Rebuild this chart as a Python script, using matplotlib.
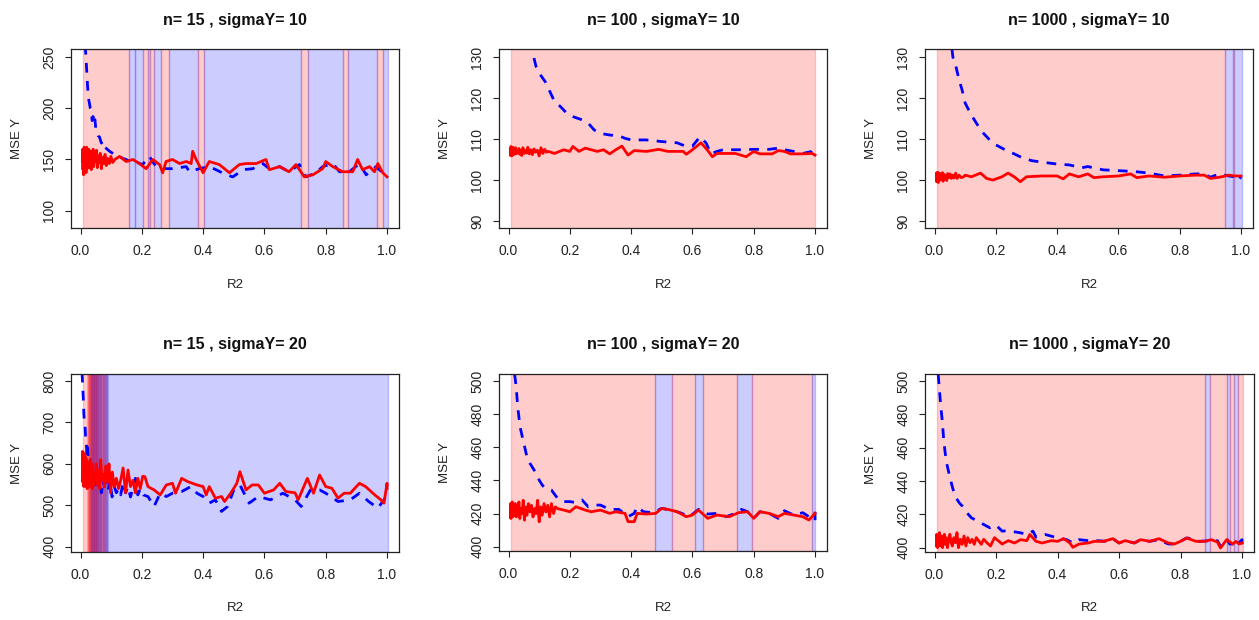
import matplotlib
matplotlib.use("Agg")
import matplotlib.pyplot as plt

plt.rcParams["font.family"] = ["Liberation Sans", "DejaVu Sans"]

W, H = 1259, 620

RED = (1, 0, 0, 0.2)
BLUE = (0, 0, 1, 0.2)

# ---------------- panel 1 : n=15, sigmaY=10 ----------------
p1_blue_x = [0.015, 0.018, 0.020, 0.023, 0.026, 0.029, 0.032, 0.035, 0.038, 0.041, 0.044, 0.047,
             0.050, 0.054, 0.058, 0.062, 0.068, 0.074, 0.080, 0.087, 0.095, 0.105, 0.116, 0.127,
             0.138, 0.149, 0.160, 0.171, 0.185, 0.203, 0.215, 0.225, 0.235, 0.247, 0.28, 0.30,
             0.345, 0.355, 0.388, 0.42, 0.442, 0.475, 0.497, 0.53, 0.562, 0.595, 0.616, 0.65,
             0.68, 0.714, 0.736, 0.768, 0.79, 0.823, 0.845, 0.877, 0.91, 0.932, 0.964, 0.986, 1.0]
p1_blue_y = [262, 250, 238, 222, 210, 205, 200, 198, 188, 192, 185, 189,
             180, 178, 173, 172, 166, 168, 162, 160, 158, 156, 154, 153,
             151, 150, 148, 146, 147, 145, 150, 153, 148, 143, 141, 141,
             143, 138, 141, 143, 140, 135, 133, 140, 141, 146, 141, 143,
             138, 145, 133, 137, 143, 146, 138, 138, 146, 135, 143, 137, 132]
p1_red_x = [0.006, 0.007, 0.008, 0.009, 0.010, 0.011, 0.012, 0.013, 0.014, 0.015,
            0.016, 0.018, 0.019, 0.020, 0.022, 0.023, 0.025, 0.027, 0.029, 0.031,
            0.033, 0.035, 0.037, 0.039, 0.041, 0.043, 0.046, 0.049, 0.052, 0.055,
            0.058, 0.061, 0.064, 0.068, 0.072, 0.076, 0.080, 0.084, 0.089, 0.094,
            0.099, 0.105, 0.112, 0.127, 0.149, 0.171, 0.192, 0.214, 0.236, 0.258, 0.268,
            0.279, 0.30, 0.323, 0.345, 0.361, 0.366, 0.377, 0.40, 0.42, 0.453, 0.486, 0.518,
            0.54, 0.573, 0.605, 0.616, 0.65, 0.68, 0.703, 0.73, 0.758, 0.79, 0.80, 0.823,
            0.855, 0.888, 0.904, 0.92, 0.943, 0.959, 0.97, 0.986, 1.0]
p1_red_y = [148, 160, 140, 157, 135, 152, 162, 138, 155, 145,
            160, 137, 150, 162, 141, 155, 146, 160, 142, 150,
            158, 140, 154, 146, 160, 143, 152, 148, 159, 142,
            153, 147, 156, 141, 152, 146, 155, 144, 151, 146,
            153, 147, 150, 153, 148, 150, 146, 141, 150, 145, 137,
            148, 150, 146, 148, 146, 158, 150, 137, 148, 145, 137, 145,
            146, 146, 150, 140, 143, 138, 145, 133, 135, 141, 148, 143,
            138, 138, 150, 140, 143, 138, 146, 137, 133]
p1_spans = [(0.008, 0.158, "r"), (0.158, 0.177, "b"), (0.177, 0.203, "b"), (0.203, 0.219, "r"),
            (0.219, 0.228, "b"), (0.228, 0.240, "r"), (0.240, 0.264, "b"), (0.264, 0.289, "r"),
            (0.289, 0.382, "b"), (0.382, 0.403, "r"), (0.403, 0.718, "b"), (0.718, 0.743, "r"),
            (0.743, 0.855, "b"), (0.855, 0.873, "r"), (0.873, 0.968, "b"), (0.968, 0.986, "r"),
            (0.986, 1.002, "b")]

# ---------------- panel 2 : n=100, sigmaY=10 ----------------
p2_blue_x = [0.083, 0.09, 0.10, 0.12, 0.13, 0.15, 0.17, 0.19, 0.21, 0.24, 0.26, 0.28, 0.30,
             0.33, 0.36, 0.38, 0.40, 0.45, 0.50, 0.55, 0.58, 0.60, 0.625, 0.645, 0.66, 0.68,
             0.70, 0.75, 0.80, 0.85, 0.88, 0.90, 0.93, 0.96, 0.99, 1.0]
p2_blue_y = [129.8, 127.7, 126.1, 124.0, 122.4, 119.2, 117.9, 116.3, 115.5, 114.7, 113.9, 112.2, 111.4,
             111.0, 110.8, 110.2, 109.8, 109.8, 109.4, 109.1, 108.2, 108.3, 110.6, 109.0, 106.4, 107.0,
             107.4, 107.4, 107.5, 107.5, 107.8, 107.4, 107.0, 106.5, 107.0, 107.8]
p2_red_x = [0.006, 0.007, 0.008, 0.009, 0.010, 0.011, 0.012, 0.013, 0.015, 0.017,
            0.019, 0.021, 0.023, 0.025, 0.028, 0.031, 0.034, 0.037, 0.040, 0.043,
            0.047, 0.051, 0.055, 0.059, 0.063, 0.068, 0.073, 0.078, 0.083, 0.088,
            0.094, 0.100, 0.106, 0.112, 0.118, 0.124,
            0.13, 0.15, 0.18, 0.20, 0.21, 0.23, 0.25, 0.27, 0.29, 0.31, 0.33, 0.35, 0.37, 0.39,
            0.41, 0.45, 0.49, 0.52, 0.57, 0.58, 0.60, 0.628, 0.648, 0.665, 0.68, 0.74, 0.775,
            0.80, 0.82, 0.86, 0.88, 0.90, 0.92, 0.96, 0.99, 1.0]
p2_red_y = [107.5, 106.0, 108.2, 106.3, 107.8, 105.9, 107.6, 106.5, 108.0, 106.2,
            107.4, 106.8, 107.9, 106.4, 107.3, 106.6, 107.7, 106.3, 107.2, 106.0,
            107.9, 106.5, 107.2, 106.6, 108.0, 106.4, 107.4, 106.2, 107.6, 106.8,
            107.3, 105.9, 107.9, 106.5, 107.5, 106.8,
            107.0, 106.5, 107.4, 107.0, 108.2, 107.0, 107.8, 107.4, 107.0, 107.4, 106.4, 107.4, 108.3, 106.1,
            107.2, 107.0, 107.5, 107.0, 107.0, 106.3, 107.4, 109.1, 107.4, 105.7, 106.5, 106.5, 105.7,
            107.0, 106.4, 106.4, 107.2, 107.0, 106.4, 106.4, 106.5, 106.1]
p2_spans = [(0.007, 1.0, "r")]

# ---------------- panel 3 : n=1000, sigmaY=10 ----------------
p3_blue_x = [0.057, 0.06, 0.07, 0.08, 0.09, 0.10, 0.12, 0.14, 0.16, 0.18, 0.20, 0.23, 0.26,
             0.29, 0.32, 0.36, 0.40, 0.44, 0.48, 0.50, 0.55, 0.60, 0.65, 0.70, 0.75, 0.80,
             0.85, 0.88, 0.90, 0.93, 0.96, 0.98, 0.99, 1.0]
p3_blue_y = [132.0, 130.0, 127.7, 124.5, 122.0, 118.8, 115.9, 113.5, 111.4, 109.8, 108.6, 107.4, 106.4,
             105.3, 104.7, 104.3, 103.9, 103.7, 103.0, 103.3, 102.5, 102.3, 102.1, 101.7, 101.0, 101.2,
             101.5, 101.5, 100.7, 101.5, 101.0, 100.8, 99.9, 100.8]
p3_red_x = [0.006, 0.007, 0.008, 0.009, 0.010, 0.011, 0.012, 0.014, 0.016, 0.018,
            0.020, 0.022, 0.024, 0.026, 0.028, 0.031, 0.034, 0.037, 0.040, 0.043,
            0.047, 0.051, 0.055, 0.059, 0.064, 0.069, 0.074, 0.080, 0.087, 0.095,
            0.10, 0.12, 0.15, 0.17, 0.19, 0.22, 0.24, 0.26, 0.28, 0.30, 0.35, 0.40, 0.42, 0.44,
            0.47, 0.50, 0.52, 0.55, 0.60, 0.64, 0.66, 0.70, 0.75, 0.80, 0.85, 0.88, 0.90, 0.93,
            0.96, 0.98, 1.0]
p3_red_y = [101.5, 99.6, 101.8, 99.8, 100.9, 101.9, 99.4, 101.2, 100.2, 101.6,
            100.0, 101.3, 100.5, 101.8, 99.7, 101.4, 100.3, 101.0, 99.9, 101.6,
            100.6, 101.5, 100.4, 101.2, 100.5, 101.7, 100.4, 101.2, 100.6, 100.8,
            101.2, 100.8, 101.7, 100.4, 100.0, 100.8, 101.7, 100.8, 99.6, 100.8, 101.0, 101.0, 100.3, 101.5,
            100.8, 101.5, 100.6, 100.8, 101.0, 101.5, 100.6, 101.0, 100.7, 101.0, 101.2, 101.2, 100.4, 100.7,
            101.2, 101.0, 101.0]
p3_spans = [(0.008, 0.948, "r"), (0.948, 0.973, "b"), (0.973, 0.978, "r"), (0.978, 1.002, "b")]

# ---------------- panel 4 : n=15, sigmaY=20 ----------------
p4_blue_x = [0.005, 0.007, 0.009, 0.011, 0.013, 0.015, 0.017, 0.019, 0.021, 0.023, 0.026, 0.029,
             0.032, 0.035, 0.038, 0.042, 0.046, 0.050, 0.054, 0.058, 0.063, 0.068, 0.073, 0.078,
             0.084, 0.090, 0.096, 0.103, 0.110, 0.117, 0.124, 0.131, 0.139, 0.147, 0.155, 0.163,
             0.171, 0.179, 0.187, 0.195, 0.205, 0.22, 0.24, 0.26, 0.28, 0.30, 0.33, 0.36, 0.38,
             0.40, 0.42, 0.44, 0.46, 0.48, 0.50, 0.52, 0.55, 0.58, 0.62, 0.66, 0.70, 0.72, 0.75,
             0.78, 0.80, 0.84, 0.88, 0.91, 0.94, 0.97, 0.99, 1.0]
p4_blue_y = [820, 790, 760, 720, 700, 690, 660, 650, 620, 640, 600, 580,
             610, 560, 590, 545, 575, 550, 580, 540, 565, 530, 560, 545,
             575, 535, 560, 520, 545, 530, 540, 525, 555, 530, 545, 520,
             540, 565, 525, 540, 525, 521, 497, 529, 521, 529, 533, 545, 529,
             521, 505, 513, 485, 497, 537, 549, 505, 521, 513, 529, 513, 497, 537,
             537, 529, 509, 513, 529, 509, 493, 513, 525]
p4_red_x = [0.006, 0.007, 0.008, 0.009, 0.010, 0.011, 0.012, 0.013, 0.014, 0.015,
            0.016, 0.017, 0.018, 0.019, 0.020, 0.022, 0.024, 0.026, 0.028, 0.030,
            0.032, 0.034, 0.036, 0.038, 0.040, 0.043, 0.046, 0.049, 0.052, 0.055,
            0.058, 0.062, 0.066, 0.070, 0.074, 0.078, 0.083, 0.088, 0.093, 0.098,
            0.104, 0.110, 0.117, 0.124, 0.131, 0.139, 0.147, 0.155, 0.163, 0.171,
            0.179, 0.187, 0.195, 0.203,
            0.21, 0.22, 0.24, 0.26, 0.28, 0.30, 0.31, 0.33, 0.35,
            0.38, 0.40, 0.41, 0.42, 0.44, 0.46, 0.47, 0.49, 0.51, 0.52, 0.54, 0.56, 0.58, 0.60,
            0.63, 0.65, 0.67, 0.70, 0.71, 0.74, 0.76, 0.78, 0.80, 0.82, 0.84, 0.86, 0.88, 0.91,
            0.93, 0.96, 0.98, 0.99, 1.0, 1.0]
p4_red_y = [560, 630, 555, 610, 570, 545, 600, 560, 625, 548,
            590, 555, 615, 545, 575, 540, 605, 552, 590, 545,
            610, 550, 585, 540, 600, 548, 575, 560, 600, 550,
            585, 540, 610, 560, 575, 545, 595, 555, 600, 530,
            580, 545, 565, 540, 560, 590, 530, 585, 545, 560,
            530, 565, 540, 570,
            569, 545, 537, 525, 549, 553, 529, 565, 557,
            549, 545, 525, 545, 517, 521, 509, 529, 553, 581, 537, 549, 549, 529,
            537, 553, 533, 530, 513, 565, 529, 573, 545, 541, 517, 529, 529, 553,
            545, 525, 513, 505, 553, 541]
p4_spans = [(0.008, 0.026, "r"),
            (0.026, 0.028, "r"), (0.028, 0.030, "r"), (0.030, 0.032, "b"), (0.032, 0.034, "r"),
            (0.034, 0.036, "r"), (0.036, 0.038, "b"), (0.038, 0.040, "r"), (0.040, 0.042, "r"),
            (0.042, 0.044, "b"), (0.044, 0.046, "r"), (0.046, 0.048, "r"), (0.048, 0.050, "b"),
            (0.050, 0.052, "r"), (0.052, 0.054, "r"), (0.054, 0.056, "b"), (0.056, 0.058, "r"),
            (0.058, 0.060, "r"), (0.060, 0.062, "b"),
            (0.062, 0.068, "b"),
            (0.068, 0.071, "r"), (0.071, 0.074, "b"), (0.074, 0.077, "r"), (0.077, 0.080, "b"),
            (0.080, 0.083, "r"), (0.083, 0.086, "b"),
            (0.086, 1.002, "b")]

# ---------------- panel 5 : n=100, sigmaY=20 ----------------
p5_blue_x = [0.02, 0.025, 0.03, 0.035, 0.04, 0.05, 0.06, 0.07, 0.08, 0.09, 0.10, 0.11, 0.12,
             0.14, 0.16, 0.18, 0.20, 0.22, 0.24, 0.26, 0.28, 0.30, 0.33, 0.36, 0.39, 0.41, 0.42,
             0.44, 0.47, 0.50, 0.53, 0.56, 0.59, 0.62, 0.65, 0.68, 0.71, 0.74, 0.76, 0.78, 0.80,
             0.82, 0.85, 0.88, 0.90, 0.93, 0.96, 0.98, 1.0, 1.0]
p5_blue_y = [504, 496.6, 484.5, 476.5, 470.4, 462.4, 454.3, 450.3, 447.3, 444.3, 440.2, 437.2, 435.2,
             434.2, 429.2, 427.2, 427.2, 426.6, 428.2, 424.1, 425.1, 425.1, 422.5, 422.5, 418.1, 420.1, 424.1,
             421.1, 420.5, 423.1, 422.1, 420.5, 418.1, 422.5, 419.7, 420.1, 418.1, 420.1, 422.5, 421.1, 417.1,
             421.1, 420.1, 417.1, 421.7, 419.1, 420.5, 418.1, 421.1, 416.0]
p5_red_x = [0.006, 0.007, 0.008, 0.009, 0.010, 0.012, 0.014, 0.016, 0.018, 0.020,
            0.022, 0.025, 0.028, 0.031, 0.034, 0.037, 0.040, 0.044, 0.048, 0.052,
            0.056, 0.060, 0.065, 0.070, 0.075, 0.080, 0.085, 0.090, 0.095, 0.100,
            0.105, 0.110, 0.116, 0.122, 0.128, 0.134, 0.140, 0.147, 0.153, 0.160,
            0.18, 0.20, 0.22, 0.25, 0.27, 0.30, 0.33, 0.35, 0.38, 0.39,
            0.41, 0.42, 0.45, 0.48, 0.50, 0.52, 0.55, 0.58, 0.60, 0.62, 0.65, 0.68, 0.72, 0.75,
            0.78, 0.80, 0.82, 0.85, 0.88, 0.90, 0.93, 0.96, 0.98, 1.0]
p5_red_y = [418, 426, 417, 424, 420, 427, 418, 425, 419, 423,
            426, 418, 424, 421, 427, 417, 423, 420, 428, 416,
            424, 419, 426, 421, 425, 418, 423, 420, 428, 415,
            424, 419, 426, 421, 425, 418, 426, 420, 424, 423,
            422.1, 421.1, 424.1, 422.1, 421.1, 422.1, 420.1, 421.1, 420.1, 415.1,
            415.1, 420.1, 419.7, 420.1, 423.1, 422.5, 421.1, 418.1, 419.1, 422.1, 417.1, 419.1, 418.1, 420.5,
            421.1, 417.1, 421.1, 420.1, 418.1, 420.1, 419.1, 418.1, 416.1, 420.1]
p5_spans = [(0.007, 0.479, "r"), (0.479, 0.532, "b"), (0.532, 0.608, "r"), (0.608, 0.633, "b"),
            (0.633, 0.745, "r"), (0.745, 0.793, "b"), (0.793, 0.989, "r"), (0.989, 1.0, "b")]

# ---------------- panel 6 : n=1000, sigmaY=20 ----------------
p6_blue_x = [0.012, 0.015, 0.02, 0.025, 0.03, 0.035, 0.04, 0.05, 0.06, 0.07, 0.08, 0.09, 0.10,
             0.12, 0.14, 0.16, 0.18, 0.20, 0.22, 0.24, 0.26, 0.28, 0.30, 0.32, 0.33, 0.36, 0.38,
             0.40, 0.43, 0.45, 0.47, 0.50, 0.53, 0.56, 0.58, 0.60, 0.62, 0.65, 0.67, 0.70, 0.73,
             0.76, 0.78, 0.80, 0.82, 0.84, 0.86, 0.90, 0.92, 0.93, 0.95, 0.96, 0.97, 0.98, 0.99,
             1.0, 1.0]
p6_blue_y = [504, 496.6, 485.5, 476.4, 464.3, 456.3, 450.2, 442.1, 435.1, 430.0, 427.0, 425.0, 422.0,
             417.9, 415.9, 413.9, 411.9, 413.5, 409.9, 410.3, 409.5, 408.9, 407.9, 409.9, 406.3, 407.9, 406.9,
             405.8, 404.8, 402.8, 404.8, 404.2, 404.2, 403.8, 405.4, 402.8, 404.2, 402.8, 404.8, 403.8, 404.8,
             402.2, 402.2, 403.8, 405.8, 405.4, 403.8, 404.2, 404.2, 400.8, 405.4, 402.2, 402.2, 404.8, 402.8,
             404.8, 399.8]
p6_red_x = [0.006, 0.007, 0.008, 0.009, 0.010, 0.012, 0.014, 0.016, 0.018, 0.020,
            0.023, 0.026, 0.029, 0.032, 0.035, 0.038, 0.042, 0.046, 0.050, 0.054,
            0.058, 0.063, 0.068, 0.073, 0.078, 0.084, 0.090, 0.096, 0.102, 0.108,
            0.115, 0.122, 0.129, 0.136, 0.144, 0.152, 0.160, 0.170, 0.182, 0.195,
            0.22, 0.24, 0.26, 0.28, 0.30, 0.31,
            0.33, 0.35, 0.38, 0.40, 0.42, 0.44, 0.45, 0.47, 0.50, 0.52, 0.55, 0.58, 0.60, 0.62,
            0.65, 0.67, 0.70, 0.73, 0.76, 0.78, 0.80, 0.82, 0.85, 0.88, 0.90, 0.92, 0.93, 0.95,
            0.97, 0.98, 0.99, 1.0]
p6_red_y = [401, 408, 402, 407, 400, 406, 403, 409, 401, 405,
            407, 400, 404, 408, 402, 406, 400, 405, 408, 403,
            401, 406, 403, 409, 400, 405, 402, 407, 401, 406,
            403, 405, 402, 406, 404, 402, 405, 403, 401, 406,
            402.2, 404.2, 402.8, 404.8, 404.2, 407.9,
            403.8, 402.8, 404.2, 403.8, 405.4, 402.8, 400.2, 402.2, 402.8, 403.8, 403.8, 405.4, 402.8, 404.2,
            402.8, 404.8, 403.8, 405.4, 402.8, 402.2, 403.8, 405.8, 403.8, 403.8, 404.8, 403.4, 399.8, 404.8,
            402.2, 403.8, 402.2, 402.8]
p6_spans = [(0.008, 0.879, "r"), (0.879, 0.896, "b"), (0.896, 0.950, "r"), (0.950, 0.962, "b"),
            (0.962, 0.973, "r"), (0.973, 0.986, "b"), (0.986, 1.002, "r")]

titles = ["n= 15 , sigmaY= 10", "n= 100 , sigmaY= 10", "n= 1000 , sigmaY= 10",
          "n= 15 , sigmaY= 20", "n= 100 , sigmaY= 20", "n= 1000 , sigmaY= 20"]
ylims = [(83, 258), (88.3, 132), (88.3, 132), (387, 817), (397.4, 504.2), (397.4, 504.2)]
yticks = [[100, 150, 200, 250], [90, 100, 110, 120, 130], [90, 100, 110, 120, 130],
          [400, 500, 600, 700, 800], [400, 420, 440, 460, 480, 500], [400, 420, 440, 460, 480, 500]]
xticks = [0.0, 0.2, 0.4, 0.6, 0.8, 1.0]

# axes boxes in pixels: left, top, right, bottom
boxes = [(71, 49, 399, 228), (499, 49, 827, 228), (925, 49, 1253, 228),
         (71, 374, 399, 552), (499, 374, 827, 551), (925, 374, 1254, 552)]

panels = [
    (p1_blue_x, p1_blue_y, p1_red_x, p1_red_y, p1_spans),
    (p2_blue_x, p2_blue_y, p2_red_x, p2_red_y, p2_spans),
    (p3_blue_x, p3_blue_y, p3_red_x, p3_red_y, p3_spans),
    (p4_blue_x, p4_blue_y, p4_red_x, p4_red_y, p4_spans),
    (p5_blue_x, p5_blue_y, p5_red_x, p5_red_y, p5_spans),
    (p6_blue_x, p6_blue_y, p6_red_x, p6_red_y, p6_spans),
]

fig = plt.figure(figsize=(W / 100, H / 100), dpi=100)

for i, (bx, by, rx, ry, spans) in enumerate(panels):
    l, t, r, b = boxes[i]
    ax = fig.add_axes([l / W, 1 - b / H, (r - l) / W, (b - t) / H])

    # shaded regions: which method wins on each R2 stretch
    for x0, x1, c in spans:
        col = RED if c == "r" else BLUE
        # very short runs pile their borders up, like in the original
        edge_w = 2.2 if (x1 - x0) < 0.004 else 1
        ax.axvspan(x0, x1, facecolor=col, edgecolor=col, lw=edge_w, zorder=1)

    ax.plot(bx, by, color="blue", lw=2, linestyle=(0, (3.5, 3)), zorder=3)
    ax.plot(rx, ry, color="red", lw=2, zorder=4)

    ax.set_xlim(-0.031, 1.039)
    ax.set_ylim(*ylims[i])
    ax.set_xticks(xticks)
    ax.set_xticklabels([f"{v:.1f}" for v in xticks])
    ax.set_yticks(yticks[i])
    ax.set_yticklabels([str(v) for v in yticks[i]], rotation=90, va="center")
    ax.tick_params(axis="both", direction="out", length=4.5, width=0.8,
                   labelsize=10, colors="#222222")
    ax.tick_params(axis="x", pad=7)
    ax.tick_params(axis="y", pad=6)
    for s in ax.spines.values():
        s.set_linewidth(0.9)
        s.set_color("#222222")
        s.set_zorder(5)

    cx = (l + r) / 2
    title_y = 20 if t < 300 else 345
    xlab_y = 285 if t < 300 else 608
    fig.text(cx / W, 1 - title_y / H, titles[i], ha="center", va="center",
             fontsize=11.5, fontweight="bold", color="#111111")
    fig.text(cx / W, 1 - xlab_y / H, "R2", ha="center", va="center",
             fontsize=9.5, color="#222222")
    fig.text((l - 54) / W, 1 - ((t + b) / 2) / H, "MSE Y", ha="center", va="center",
             rotation=90, fontsize=9.5, color="#222222")

fig.savefig("out.png", dpi=100)
